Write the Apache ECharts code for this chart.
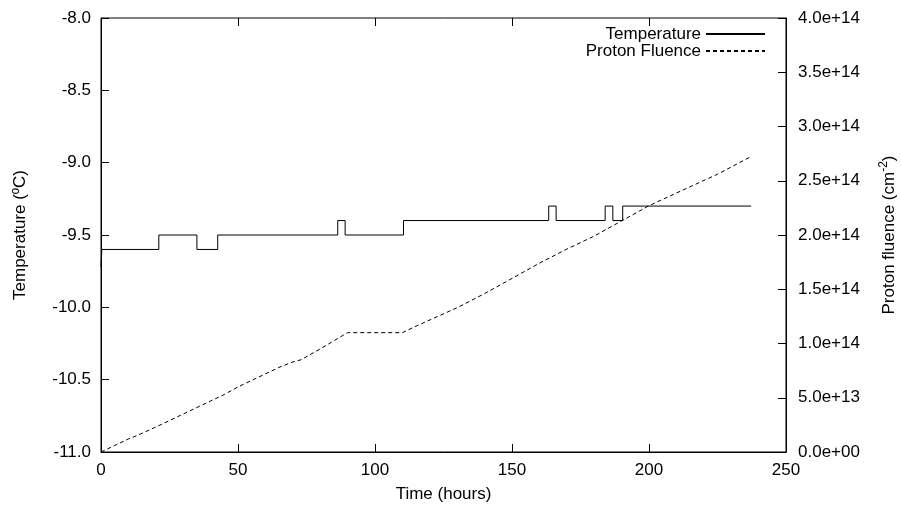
<!DOCTYPE html>
<html>
<head>
<meta charset="utf-8">
<script src="https://cdn.jsdelivr.net/npm/echarts@6/dist/echarts.min.js"></script>
<style>html,body{margin:0;padding:0;background:#fff}#c{width:901px;height:506px}</style>
</head>
<body>
<div id="c"></div>
<script>
// Temperature (°C) step data vs time (hours)
var tempTimes  = [0, 0.3, 21.1, 35.0, 42.6, 86.4, 89.1, 110.4, 163.4, 166.1, 184.0, 186.8, 190.4, 237.3];
var tempValues = [-9.72, -9.6, -9.5, -9.6, -9.5, -9.4, -9.5, -9.4, -9.3, -9.4, -9.3, -9.4, -9.3, -9.3];
// Proton fluence (units of 1e14 cm^-2) vs time (hours)
var fluTimes  = [0, 5, 10, 13, 20, 30, 40, 45, 50, 60, 65, 70, 73, 80, 88, 90, 110, 115, 130, 140, 150, 160, 170, 180, 190, 200, 212, 225, 237];
var fluValues = [0, 0.06, 0.12, 0.15, 0.23, 0.35, 0.47, 0.53, 0.60, 0.72, 0.78, 0.83, 0.85, 0.95, 1.07, 1.10, 1.10, 1.16, 1.33, 1.46, 1.60, 1.74, 1.87, 1.99, 2.13, 2.27, 2.41, 2.56, 2.72];

var FONT = 'Liberation Sans';
var FS = 17;
var tempData = tempTimes.map(function (t, i) { return [t, tempValues[i]]; });
var fluData = fluTimes.map(function (t, i) { return [t, fluValues[i] * 1e14]; });

function expFmt(v) {
  if (v === 0) return '0.0e+00';
  var m = v.toExponential(1).split('e');
  var e = parseInt(m[1], 10), ae = Math.abs(e);
  return m[0] + 'e' + (e < 0 ? '-' : '+') + (ae < 10 ? '0' + ae : '' + ae);
}

var chart = echarts.init(document.getElementById('c'), null, {renderer: 'canvas'});
var tickStyle = {show: true, inside: true, length: 8, lineStyle: {color: '#000', width: 1}};
var lineStyleAx = {show: true, onZero: false, lineStyle: {color: '#000', width: 1}};
var labelStyle = {color: '#000', fontFamily: FONT, fontSize: FS};
var legendText = {color: '#000', fontFamily: FONT, fontSize: FS};
chart.setOption({
  animation: false,
  backgroundColor: '#fff',
  grid: {left: 101, right: 115, top: 18, bottom: 54, outerBoundsMode: 'none', containLabel: false,
         show: true, borderColor: '#000', borderWidth: 1, backgroundColor: 'transparent'},
  legend: [
    {data: ['Temperature'], right: 135, top: 25.5, orient: 'vertical', align: 'right', padding: 0, itemWidth: 59, itemHeight: 14, itemGap: 0,
     itemStyle: {opacity: 0}, textStyle: legendText, selectedMode: false},
    {data: ['Proton Fluence'], right: 135, top: 42.5, orient: 'vertical', align: 'right', padding: 0, itemWidth: 59, itemHeight: 14, itemGap: 0,
     itemStyle: {opacity: 0}, textStyle: legendText, selectedMode: false}
  ],
  xAxis: [
    {type: 'value', min: 0, max: 250, interval: 50, position: 'bottom',
     axisLine: lineStyleAx, axisTick: tickStyle, splitLine: {show: false},
     axisLabel: Object.assign({margin: 10}, labelStyle),
     name: 'Time (hours)', nameLocation: 'middle', nameGap: 34,
     nameTextStyle: {color: '#000', fontFamily: FONT, fontSize: FS}},
    {type: 'value', min: 0, max: 250, interval: 50, position: 'top',
     axisLine: {show: false, onZero: false}, axisTick: tickStyle, splitLine: {show: false}, axisLabel: {show: false}}
  ],
  yAxis: [
    {type: 'value', min: -11, max: -8, interval: 0.5, position: 'left',
     axisLine: lineStyleAx, axisTick: tickStyle, splitLine: {show: false},
     axisLabel: Object.assign({margin: 10, formatter: function (v) { return v.toFixed(1); }}, labelStyle),
     name: 'Temperature (ºC)', nameLocation: 'middle', nameGap: 72, nameRotate: 90,
     nameTextStyle: {color: '#000', fontFamily: FONT, fontSize: FS}},
    {type: 'value', min: 0, max: 4e14, interval: 5e13, position: 'right',
     axisLine: lineStyleAx, axisTick: tickStyle, splitLine: {show: false},
     axisLabel: Object.assign({margin: 12, formatter: expFmt}, labelStyle),
     name: 'Proton fluence (cm{sup|-2})', nameLocation: 'middle', nameGap: 92, nameRotate: 90,
     nameTextStyle: {color: '#000', fontFamily: FONT, fontSize: FS,
       rich: {sup: {color: '#000', fontFamily: FONT, fontSize: 12, verticalAlign: 'top', padding: [0, 0, 10, 0]}}}}
  ],
  series: [
    {name: 'Temperature', type: 'line', step: 'end', xAxisIndex: 0, yAxisIndex: 0, data: tempData,
     showSymbol: false, symbol: 'none', lineStyle: {color: '#000', width: 1}, itemStyle: {color: '#000'}},
    {name: 'Proton Fluence', type: 'line', xAxisIndex: 0, yAxisIndex: 1, data: fluData,
     showSymbol: false, symbol: 'none', lineStyle: {color: '#000', width: 1, type: [4, 3]}, itemStyle: {color: '#000'}}
  ]
});
</script>
</body>
</html>
